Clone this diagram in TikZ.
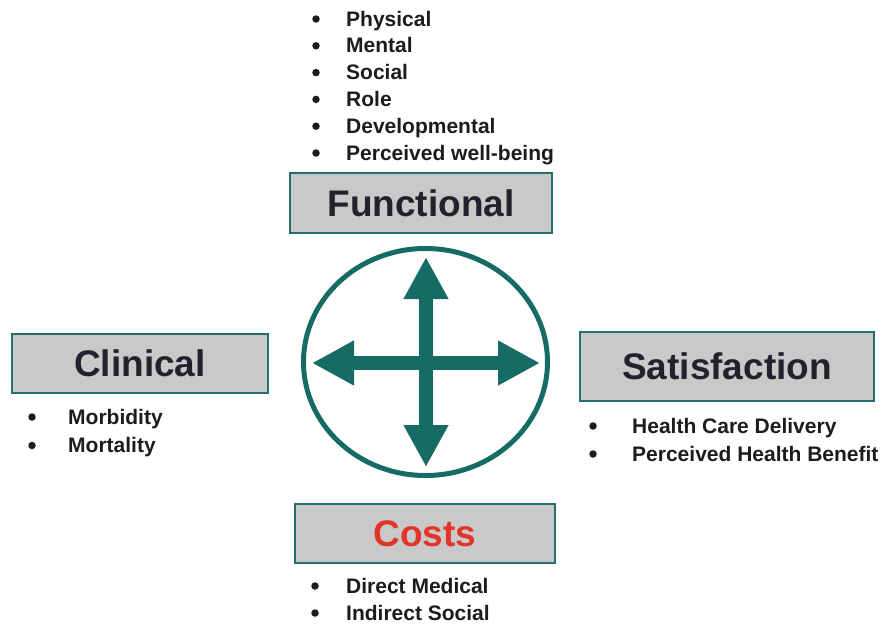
\documentclass[tikz,border=0pt]{standalone}
\usepackage{fontspec}
\setmainfont{Liberation Sans}
\usetikzlibrary{shapes.geometric,arrows.meta}
\definecolor{hubgreen}{RGB}{22,108,100}
\definecolor{boxedge}{RGB}{40,110,108}
\definecolor{boxgray}{RGB}{201,201,201}
\definecolor{titleink}{RGB}{34,34,44}
\definecolor{itemink}{RGB}{28,28,28}
\definecolor{costred}{RGB}{226,52,40}

\begin{document}
\begin{tikzpicture}[x=1pt,y=-1pt,
	dimbox/.style={draw=boxedge, line width=1.6pt, fill=boxgray, inner sep=0pt,
		font=\fontsize{37}{40}\selectfont\bfseries, text=titleink},
	item/.style={anchor=base west, inner sep=0pt, font=\fontsize{21}{24}\selectfont\bfseries, text=itemink},
	dot/.style={circle, fill=itemink, inner sep=0pt, minimum size=7.5pt},
	spoke/.style={line width=14pt, draw=hubgreen, -{Triangle[length=42pt,width=42pt]}}]
	\useasboundingbox (0,0) rectangle (891,624);

	% the four outcome boxes
	\node[dimbox, minimum width=262pt, minimum height=60pt] (functional) at (421,203) {Functional};
	\node[dimbox, minimum width=256pt, minimum height=59pt] (clinical) at (140,363.5) {Clinical};
	\node[dimbox, minimum width=294pt, minimum height=69pt] (satisfaction) at (727,366.5) {Satisfaction};
	\node[dimbox, minimum width=260pt, minimum height=59pt, text=costred] (costs) at (425,533.5) {Costs};

	% hub with the four arrows
	\node[ellipse, draw=hubgreen, line width=5pt, minimum width=244pt, minimum height=227pt] (hub) at (425.5,362) {};
	\coordinate (hub-c) at (426,363);
	\coordinate (tip-n) at (426,257);
	\coordinate (tip-s) at (426,467);
	\coordinate (tip-w) at (312,363);
	\coordinate (tip-e) at (540,363);
	\draw[spoke] (hub-c) -- (tip-n);
	\draw[spoke] (hub-c) -- (tip-s);
	\draw[spoke] (hub-c) -- (tip-w);
	\draw[spoke] (hub-c) -- (tip-e);

	% bullet lists
	\foreach \txt [count=\i] in {Physical, Mental, Social, Role, Developmental, Perceived well-being} {
		\node[dot] (fun-dot-\i) at (316,{19+26.8*(\i-1)}) {};
		\node[item] (fun-\i) at (346,{26+26.8*(\i-1)}) {\txt};
	}
	\foreach \txt [count=\i] in {Morbidity, Mortality} {
		\node[dot] (cli-dot-\i) at (32,{417+28.5*(\i-1)}) {};
		\node[item] (cli-\i) at (68,{424+28.5*(\i-1)}) {\txt};
	}
	\foreach \txt [count=\i] in {Health Care Delivery, Perceived Health Benefit} {
		\node[dot] (sat-dot-\i) at (593,{426+28*(\i-1)}) {};
		\node[item] (sat-\i) at (632,{433+28*(\i-1)}) {\txt};
	}
	\foreach \txt [count=\i] in {Direct Medical, Indirect Social} {
		\node[dot] (cos-dot-\i) at (315,{586+27*(\i-1)}) {};
		\node[item] (cos-\i) at (346,{593+27*(\i-1)}) {\txt};
	}
\end{tikzpicture}
\end{document}
